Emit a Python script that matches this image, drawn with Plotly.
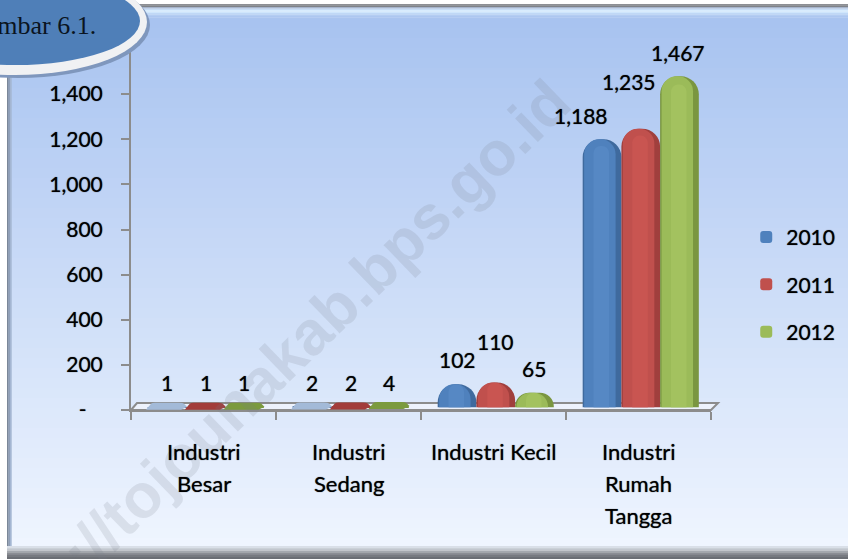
import plotly.graph_objects as go

CATEGORIES = ["Industri<br>Besar", "Industri<br>Sedang", "Industri Kecil", "Industri<br>Rumah<br>Tangga"]
YEARS = ["2010", "2011", "2012"]
V2010 = [1, 2, 102, 1188]
V2011 = [1, 2, 110, 1235]
V2012 = [1, 4, 65, 1467]
Y_TICKS = [0, 200, 400, 600, 800, 1000, 1200, 1400]
Y_TICK_TEXT = ["-\u00a0\u00a0\u00a0", "200", "400", "600", "800", "1,000", "1,200", "1,400"]

W, H = 848, 559
L, R, T, B = 131, 711, 49, 410
FONT = "Lato"
SHADOW = "0 0 1px rgba(0,0,0,0.75)"
SERIES = [V2010, V2011, V2012]
EDGE = ["#3f6a9e", "#a03f3d", "#7a9640"]
MAIN = ["#4f81bd", "#c0504d", "#9bbb59"]
LIGHT = ["#5688c4", "#c95551", "#a3c25f"]
FLAT = ["#a3bad8", "#a23c3a", "#7b9a3e"]
OFFSETS = [-0.385, -0.118, 0.149]
BAR_W = 0.267
DEPTH = 12  # columns stand on the floor, slightly above the front edge of the axis
LABEL_SHIFT = {(2, 0): (0, 14), (2, 1): (0, 31), (3, 0): (-21, 13), (3, 1): (-12, 37), (3, 2): (-1, 14)}


def px(x):
    return (x - L) / (R - L)


def py(y):
    return (B - y) / (B - T)


def lerp(a, b, t):
    return "rgb(%d,%d,%d)" % tuple(round(a[i] + (b[i] - a[i]) * t) for i in range(3))


def rect(x0, y0, x1, y1, color, layer="below"):
    return dict(type="rect", xref="paper", yref="paper", x0=px(x0), x1=px(x1), y0=py(y0), y1=py(y1),
                fillcolor=color, line_width=0, layer=layer)


def ellipse(cx, cy, rx, ry, color):
    return dict(type="circle", xref="paper", yref="paper", x0=px(cx - rx), x1=px(cx + rx), y0=py(cy - ry),
                y1=py(cy + ry), fillcolor=color, line_width=0, layer="above")


shapes = [rect(0, 0, W, H, "#ffffff")]
top, bot = (168, 195, 240), (240, 246, 255)
for y in range(18, 548, 10):
    shapes.append(rect(7, y, W, y + 10.5, lerp(top, bot, (y - 18) / 530)))
for i, c in enumerate(["#8d8f94", "#7f8288", "#a6b4cc", "#c6dcf6", "#d8ecfd", "#cfe6fc", "#c0d8f6", "#b4cdf2", "#adc7f0", "#a9c4ef"]):
    shapes.append(rect(7, 4 + i * 1.5, W, 4 + (i + 1) * 1.5 + .2, c))
for i, c in enumerate(["#d9dfe8", "#c2c7cf", "#a4a8ae", "#8b8e94", "#777a80", "#6b6e74"]):
    shapes.append(rect(7, 546 + i * 2.2, W, 546 + (i + 1) * 2.2 + .2, c))
for i, c in enumerate(["#7b8798", "#8f9fb8", "#a4b6d2"]):
    shapes.append(rect(7 + i * 1.5, 8, 7 + (i + 1) * 1.5 + .2, 546, c))
# 3-D floor of the chart
shapes.append(dict(type="path", xref="paper", yref="paper",
                   path="M %f %f L %f %f L %f %f L %f %f Z" % (px(L), py(B), px(L + 6), py(B - 7), px(R + 7), py(B - 7), px(R), py(B)),
                   fillcolor="rgba(238,243,252,0.9)", line=dict(color="#8c8c8c", width=2), layer="below"))
# thin discs for the series whose columns are too short to show
for c in range(len(CATEGORIES)):
    for s, vals in enumerate(SERIES):
        if vals[c] < 10:
            shapes.append(dict(type="path", xref="x", yref="y", xsizemode="pixel", ysizemode="pixel",
                               xanchor=c + OFFSETS[s] + BAR_W / 2, yanchor=vals[c],
                               path="M -21 0 L 14 0 L 20 3 L 17 6 Q 16 7 12 7 L -12 7 Q -15 7 -16 6 Z",
                               fillcolor=FLAT[s], line_width=0, layer="above"))
shapes += [ellipse(18, 25, 132, 53, "#7f97bd"), ellipse(15, 22, 132, 53, "#f0f1f3"), ellipse(15, 21, 125, 44, "#4f7fb8")]

fig = go.Figure()
for s, vals in enumerate(SERIES):
    fig.add_bar(x=CATEGORIES, y=vals, yaxis="y2", showlegend=False, legendgroup=YEARS[s], width=BAR_W, offset=OFFSETS[s],
                marker=dict(color=EDGE[s], line_width=0, cornerradius=18), hoverinfo="skip")
    fig.add_bar(x=CATEGORIES, y=[v if v >= 10 else 0 for v in vals], yaxis="y2", name=YEARS[s], legendgroup=YEARS[s],
                width=BAR_W - 0.05, offset=OFFSETS[s] + 0.01, marker=dict(color=MAIN[s], line_width=0, cornerradius=16), hoverinfo="skip")
    fig.add_bar(x=CATEGORIES, y=[v * 0.975 if v >= 10 else 0 for v in vals], yaxis="y2", showlegend=False, legendgroup=YEARS[s],
                width=BAR_W - 0.16, offset=OFFSETS[s] + 0.075, marker=dict(color=LIGHT[s], line_width=0, cornerradius=8), hoverinfo="skip")

ann = [dict(text="http://tojounakab.bps.go.id", xref="paper", yref="paper", x=px(273), y=py(367), showarrow=False,
            xanchor="center", yanchor="middle", textangle=-44,
            font=dict(family="Liberation Sans", size=62, weight="bold", color="rgba(120,125,135,0.17)"))]
for c in range(4):
    for s, vals in enumerate(SERIES):
        dx, dy = LABEL_SHIFT.get((c, s), (0, 14))
        ann.append(dict(text=f"{vals[c]:,}", x=c + OFFSETS[s] + BAR_W / 2, y=vals[c], xref="x", yref="y",
                        showarrow=False, xshift=dx, yshift=dy + 13, yanchor="middle",
                        font=dict(family=FONT, size=21, color="#000000", shadow=SHADOW)))
    for i, line in enumerate(CATEGORIES[c].split("<br>")):
        ann.append(dict(text=line, x=c, y=py(451 + i * 32), xref="x", yref="paper", showarrow=False, yanchor="middle",
                        font=dict(family=FONT, size=22, color="#000000", shadow=SHADOW)))
ann.append(dict(text="Gambar 6.1.", xref="paper", yref="paper", x=px(98), y=py(26), xanchor="right", yanchor="middle",
                showarrow=False, font=dict(family="Liberation Serif", size=26, color="#0a1420")))

fig.update_layout(
    width=W, height=H, barmode="overlay", plot_bgcolor="rgba(0,0,0,0)", paper_bgcolor="#ffffff",
    margin=dict(l=L, r=W - R, t=T, b=H - B, pad=0), shapes=shapes, annotations=ann,
    font=dict(family=FONT, size=21, color="#000000"),
    xaxis=dict(type="category", categoryorder="array", categoryarray=CATEGORIES, range=[-0.5, 3.5], showticklabels=False,
               tickson="boundaries", ticks="outside", ticklen=8, tickwidth=2, tickcolor="#8c8c8c", showgrid=False,
               zeroline=False, showline=True, linecolor="#8c8c8c", linewidth=2),
    yaxis=dict(range=[0, 1600], tickmode="array", tickvals=Y_TICKS, ticktext=Y_TICK_TEXT, ticks="outside", ticklen=8,
               tickwidth=2, tickcolor="#8c8c8c", showgrid=False, zeroline=False, showline=True, linecolor="#8c8c8c",
               linewidth=2, ticklabelstandoff=14, tickfont=dict(family=FONT, size=21, color="#000000", shadow=SHADOW)),
    yaxis2=dict(overlaying="y", range=[-DEPTH, 1600 - DEPTH], visible=False),
    legend=dict(xref="container", yref="container", x=0.880, y=0.612, xanchor="left", yanchor="top",
                tracegroupgap=17, itemwidth=30, bgcolor="rgba(0,0,0,0)",
                font=dict(family=FONT, size=21, color="#000000", shadow=SHADOW)),
)
fig.write_html("out.html", config={"displayModeBar": False},
               post_script="document.body.style.margin='0';document.documentElement.style.overflow='hidden';")
